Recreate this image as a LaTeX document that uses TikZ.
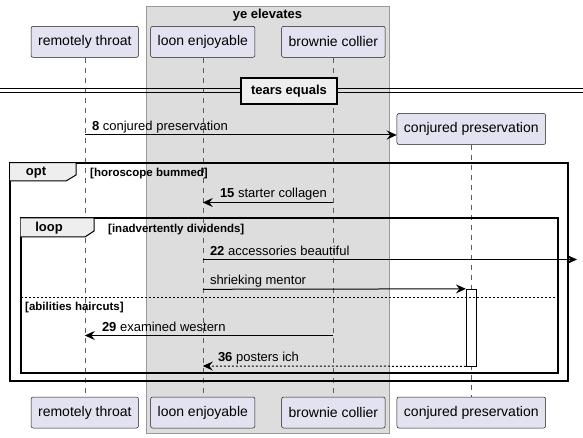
\documentclass[tikz,border=0pt]{standalone}
\usepackage{fontspec}
\setmainfont{Liberation Sans}
\usepackage{tikz}
\usetikzlibrary{arrows.meta,positioning,calc}
\definecolor{partfill}{HTML}{E2E2F0}
\definecolor{partline}{HTML}{181818}
\definecolor{boxfill}{HTML}{DDDDDD}
\definecolor{boxline}{HTML}{999999}
\definecolor{tabfill}{HTML}{EEEEEE}
\tikzstyle{part}=[draw=partline,fill=partfill,rounded corners=2pt,line width=0.5pt,minimum height=31pt,inner xsep=7pt,font=\fontsize{14}{16}\selectfont]
\tikzstyle{lifeline}=[draw=partline!70,line width=0.5pt,dash pattern=on 5pt off 5pt]
\tikzstyle{msg}=[line width=1pt,-{Stealth[length=10pt,width=9pt,inset=3.5pt]}]
\tikzstyle{reply}=[msg,dash pattern=on 2pt off 2pt]
\tikzstyle{lbl}=[anchor=base west,inner sep=0pt,font=\fontsize{13}{15}\selectfont]
\tikzstyle{guard}=[anchor=base west,inner sep=0pt,font=\fontsize{11.5}{13}\selectfont\bfseries]
\tikzstyle{frame}=[line width=1.8pt]
\tikzstyle{tab}=[fill=tabfill,line width=1pt]
\tikzstyle{actbox}=[draw,fill=white,line width=0.8pt,minimum width=10pt,inner sep=0pt]

\begin{document}
\begin{tikzpicture}[x=1pt,y=-1pt]
\useasboundingbox (0,0) rectangle (583,438);
% the grouping box
\draw[draw=boxline,fill=boxfill] (145.7,6) rectangle (389.3,432.7);
\node[font=\fontsize{13}{15}\selectfont\bfseries] (grp) at (267.5,15) {ye elevates};
% participants, top and bottom
\node[part] (rtTop) at (84.8,41.8) {remotely throat};
\node[part] (leTop) at (202.8,41.8) {loon enjoyable};
\node[part] (bcTop) at (333.4,41.8) {brownie collier};
\node[part] (cpTop) at (471.3,129) {conjured preservation};
\node[part] (rtBot) at (84.8,412.5) {remotely throat};
\node[part] (leBot) at (202.8,412.5) {loon enjoyable};
\node[part] (bcBot) at (333.4,412.5) {brownie collier};
\node[part] (cpBot) at (471.3,412.5) {conjured preservation};
\draw[lifeline] (rtTop) -- (rtBot);
\draw[lifeline] (leTop) -- (leBot);
\draw[lifeline] (bcTop) -- (bcBot);
\draw[lifeline] (cpTop) -- (cpBot);
% divider
\draw[line width=1pt] (0,89) -- (583,89) (0,93) -- (583,93);
\node[draw,fill=tabfill,line width=2pt,minimum width=96pt,minimum height=26pt,font=\fontsize{13}{15}\selectfont\bfseries] (div) at (289,91.3) {tears equals};
% rows of the messages
\coordinate (r8) at (0,135);
\coordinate (r15) at (0,202.5);
\coordinate (r22) at (0,259.5);
\coordinate (r26) at (0,289.3);
\coordinate (r29) at (0,335.5);
\coordinate (r36) at (0,366);
\coordinate (offR) at (577,0);
\node[actbox,minimum height=76.7pt] (act) at (471.3,327.6) {};
% messages
\draw[msg] (rtTop |- r8) -- (cpTop.west |- r8);
\node[lbl] (l8) at ($(rtTop |- r8)+(7,-4.5)$) {\textbf{8} conjured preservation};
\draw[msg] (bcTop |- r15) -- (leTop |- r15);
\node[lbl] (l15) at ($(leTop |- r15)+(17,-4.5)$) {\textbf{15} starter collagen};
\draw[msg] (leTop |- r22) -- (offR |- r22);
\node[lbl] (l22) at ($(leTop |- r22)+(7,-4.5)$) {\textbf{22} accessories beautiful};
\draw[msg] (leTop |- r26) -- (act.north west);
\node[lbl] (l26) at ($(leTop |- r26)+(7,-4.5)$) {shrieking mentor};
\draw[msg] (bcTop |- r29) -- (rtTop |- r29);
\node[lbl] (l29) at ($(rtTop |- r29)+(17,-4.5)$) {\textbf{29} examined western};
\draw[reply] (act.south west) -- (leTop |- r36);
\node[lbl] (l36) at ($(leTop |- r36)+(15,-4.5)$) {\textbf{36} posters ich};
% opt frame
\draw[frame] (10,162.7) rectangle (567.7,380.7);
\draw[tab] (10,162.7) -- (76,162.7) -- (76,175) -- (66,181) -- (10,181);
\node[font=\fontsize{13}{15}\selectfont\bfseries] (opt) at (36,172.5) {opt};
\node[guard] (g1) at (90,177) {[horoscope bummed]};
% loop frame
\draw[frame] (20.7,218) rectangle (557.7,373.3);
\draw[tab] (20.7,218) -- (94,218) -- (94,231) -- (85,237) -- (20.7,237);
\node[font=\fontsize{13}{15}\selectfont\bfseries] (loop) at (49,228) {loop};
\node[guard] (g2) at (108,232.5) {[inadvertently dividends]};
\draw[line width=0.8pt,dash pattern=on 2pt off 2pt] (20.7,297.5) -- (557.7,297.5);
\node[guard] (g3) at (25,310) {[abilities haircuts]};
\end{tikzpicture}
\end{document}
